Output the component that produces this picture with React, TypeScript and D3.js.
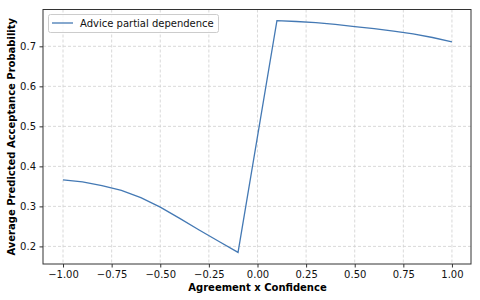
import React, { useEffect, useRef } from "react";
import * as d3 from "d3";

// partial dependence values
const xValues = [-1.0, -0.9, -0.8, -0.7, -0.6, -0.5, -0.4, -0.3, -0.2, -0.1, 0.1, 0.2, 0.3, 0.4, 0.5, 0.6, 0.7, 0.8, 0.9, 1.0];
const yValues = [0.366, 0.361, 0.352, 0.340, 0.322, 0.298, 0.270, 0.241, 0.213, 0.185, 0.764, 0.762, 0.759, 0.755, 0.749, 0.744, 0.738, 0.731, 0.722, 0.711];
const xTicks = [-1.0, -0.75, -0.5, -0.25, 0.0, 0.25, 0.5, 0.75, 1.0];
const yTicks = [0.2, 0.3, 0.4, 0.5, 0.6, 0.7];
const seriesName = "Advice partial dependence";

export default function App() {
  const svgRef = useRef<SVGSVGElement>(null);

  useEffect(() => {
    const w = 480;
    const h = 300;
    const m = { left: 43, right: 9, top: 9.5, bottom: 36 };

    const svg = d3.select(svgRef.current);
    svg.selectAll("*").remove();
    svg.attr("width", w).attr("height", h);

    const x = d3.scaleLinear().domain([-1.103, 1.098]).range([m.left, w - m.right]);
    const y = d3.scaleLinear().domain([0.156, 0.792]).range([h - m.bottom, m.top]);

    // grid
    const grid = svg.append("g");
    grid.selectAll("line.gx").data(xTicks).enter().append("line")
      .attr("x1", d => x(d)).attr("x2", d => x(d))
      .attr("y1", m.top).attr("y2", h - m.bottom)
      .attr("stroke", "#cfcfcf").attr("stroke-width", 0.8).attr("stroke-dasharray", "3,2");
    grid.selectAll("line.gy").data(yTicks).enter().append("line")
      .attr("y1", d => y(d)).attr("y2", d => y(d))
      .attr("x1", m.left).attr("x2", w - m.right)
      .attr("stroke", "#cfcfcf").attr("stroke-width", 0.8).attr("stroke-dasharray", "3,2");

    // axes
    const xAxis = d3.axisBottom(x).tickValues(xTicks).tickFormat(d3.format(".2f")).tickSizeOuter(0).tickSize(3.5).tickPadding(3.5);
    const yAxis = d3.axisLeft(y).tickValues(yTicks).tickFormat(d3.format(".1f")).tickSizeOuter(0).tickSize(3.5).tickPadding(3.5);
    const gx = svg.append("g").attr("transform", `translate(0, ${h - m.bottom})`).call(xAxis);
    const gy = svg.append("g").attr("transform", `translate(${m.left}, 0)`).call(yAxis);
    [gx, gy].forEach(g => {
      g.select(".domain").remove();
      g.selectAll("line").attr("stroke", "#333");
      g.selectAll("text").attr("font-family", "DejaVu Sans").attr("font-size", 10).attr("fill", "#111");
    });
    gx.selectAll("text").text((d: any) => d3.format(".2f")(d).replace("-", "\u2212"));

    // frame
    svg.append("rect")
      .attr("x", m.left).attr("y", m.top)
      .attr("width", w - m.left - m.right).attr("height", h - m.top - m.bottom)
      .attr("fill", "none").attr("stroke", "#333").attr("stroke-width", 1);

    // line
    const pts = xValues.map((v, i) => [v, yValues[i]] as [number, number]);
    const line = d3.line<[number, number]>().x(d => x(d[0])).y(d => y(d[1]));
    svg.append("path").datum(pts).attr("d", line)
      .attr("fill", "none").attr("stroke", "#4479b4").attr("stroke-width", 1.3);

    // labels
    svg.append("text")
      .attr("x", x(0)).attr("y", 291)
      .attr("text-anchor", "middle")
      .attr("font-family", "DejaVu Sans").attr("font-size", 10).attr("font-weight", "bold")
      .text("Agreement x Confidence");
    svg.append("text")
      .attr("transform", `translate(15, ${(m.top + h - m.bottom) / 2}) rotate(-90)`)
      .attr("text-anchor", "middle")
      .attr("font-family", "DejaVu Sans").attr("font-size", 10).attr("font-weight", "bold")
      .text("Average Predicted Acceptance Probability");

    // legend
    const lg = svg.append("g");
    lg.append("rect").attr("x", 48.5).attr("y", 14.5).attr("width", 170).attr("height", 18).attr("rx", 2)
      .attr("fill", "white").attr("fill-opacity", 0.8).attr("stroke", "#ccc");
    lg.append("line").attr("x1", 52).attr("x2", 73).attr("y1", 23).attr("y2", 23)
      .attr("stroke", "#4479b4").attr("stroke-width", 1.3);
    lg.append("text").attr("x", 80).attr("y", 26.5)
      .attr("font-family", "DejaVu Sans").attr("font-size", 10).attr("fill", "#111")
      .text(seriesName);
  }, []);

  return (
    <div style={{ position: "absolute", left: 0, top: 0 }}>
      <svg ref={svgRef} style={{ display: "block" }}></svg>
    </div>
  );
}
